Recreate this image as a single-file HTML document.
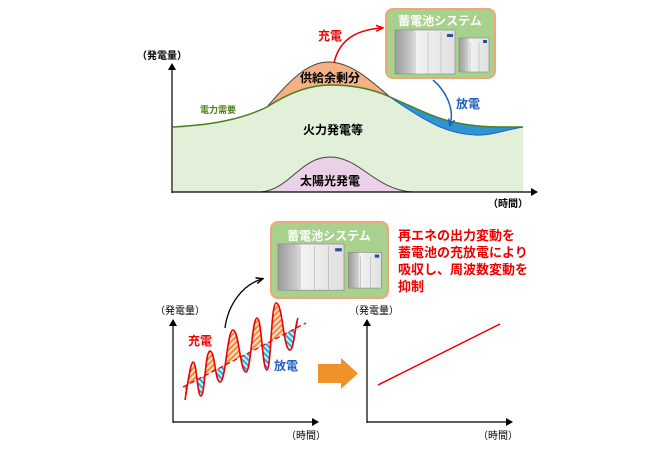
<!DOCTYPE html>
<html><head><meta charset="utf-8"><style>
html,body{margin:0;padding:0;background:#fff;}
svg{display:block;font-family:"Liberation Sans","Noto Sans CJK JP",sans-serif;}
</style></head><body>
<svg width="650" height="450" viewBox="0 0 650 450" xmlns="http://www.w3.org/2000/svg">
<defs>
<marker id="ab" markerWidth="8" markerHeight="8" refX="6" refY="4" orient="auto" markerUnits="userSpaceOnUse"><path d="M0,0 L7,4 L0,8 Z" fill="#000"/></marker>
<marker id="ar" markerWidth="8" markerHeight="8" refX="6" refY="4" orient="auto" markerUnits="userSpaceOnUse"><path d="M0,1 L7,4 L0,7" fill="none" stroke="#e00" stroke-width="1.5"/></marker>
<marker id="abl" markerWidth="8" markerHeight="8" refX="6" refY="4" orient="auto" markerUnits="userSpaceOnUse"><path d="M0,1 L7,4 L0,7" fill="none" stroke="#1f5fbf" stroke-width="1.5"/></marker>
<marker id="ak" markerWidth="8" markerHeight="8" refX="6" refY="4" orient="auto" markerUnits="userSpaceOnUse"><path d="M0,1 L7,4 L0,7" fill="none" stroke="#000" stroke-width="1.5"/></marker>
<pattern id="ho" width="4" height="4" patternUnits="userSpaceOnUse" patternTransform="rotate(45)"><rect width="4" height="4" fill="#fde3cc"/><rect width="2" height="4" fill="#f08a3c"/></pattern>
<pattern id="hb" width="4" height="4" patternUnits="userSpaceOnUse" patternTransform="rotate(-45)"><rect width="4" height="4" fill="#d6f0fa"/><rect width="2" height="4" fill="#2aa8d8"/></pattern>
<clipPath id="cu"><polygon points="180,250 310,250 310,320.3 180,388.6"/></clipPath>
<clipPath id="cd"><polygon points="180,388.6 310,320.3 310,430 180,430"/></clipPath>
<linearGradient id="gc" x1="0" x2="1"><stop offset="0" stop-color="#9a9a9a"/><stop offset="0.3" stop-color="#cfcfcf"/><stop offset="0.35" stop-color="#f2f2f2"/><stop offset="1" stop-color="#e0e0e0"/></linearGradient>
<g id="bat">
<rect x="0" y="0" width="60" height="44" fill="url(#gc)" stroke="#888" stroke-width="0.6"/>
<line x1="20" y1="2" x2="20" y2="44" stroke="#aaa" stroke-width="0.5"/><line x1="33" y1="2" x2="33" y2="44" stroke="#aaa" stroke-width="0.5"/><line x1="46" y1="2" x2="46" y2="44" stroke="#aaa" stroke-width="0.5"/>
<rect x="52" y="4" width="6" height="3" fill="#2a4f9a"/>
<rect x="64" y="8" width="30" height="34" fill="url(#gc)" stroke="#888" stroke-width="0.6"/>
<line x1="75" y1="12" x2="75" y2="42" stroke="#aaa" stroke-width="0.5"/><line x1="84" y1="12" x2="84" y2="42" stroke="#aaa" stroke-width="0.5"/>
<rect x="88" y="10" width="4" height="3" fill="#2a4f9a"/>
</g>
</defs>

<!-- TOP CHART -->
<path d="M173,127 C210,125 240,120 267,107 C290,92 310,85 330,85 C355,85 375,90 390,97 C415,108 435,118 453,122 C480,128 500,127 523,127 L523,192 L173,192 Z" fill="#e2efd9"/>
<path d="M267,107 C290,80 308,62 328,62 C350,62 368,78 390,97 C375,90 355,85 330,85 C310,85 290,92 267,107 Z" fill="#f4b183" stroke="#444" stroke-width="1"/>
<path d="M390,97 C415,108 435,118 453,122 C480,128 500,127 523,127 C505,130 490,136 475,135 C450,134 430,125 390,97 Z" fill="#2e95d3"/>
<path d="M173,127 C210,125 240,120 267,107 C290,92 310,85 330,85 C355,85 375,90 390,97 C415,108 435,118 453,122 C480,128 500,127 523,127" fill="none" stroke="#4e7f1f" stroke-width="1.5"/>
<path d="M390,97 C430,125 450,134 475,135 C490,136 505,130 523,127" fill="none" stroke="#1f5fbf" stroke-width="1"/>
<path d="M260,192 C290,190 300,157 330,157 C360,157 375,190 413,192 Z" fill="#ead1e7" stroke="#444" stroke-width="1"/>
<line x1="172" y1="193" x2="172" y2="64" stroke="#000" stroke-width="1.2" marker-end="url(#ab)"/>
<line x1="172" y1="192" x2="537" y2="192" stroke="#000" stroke-width="1.2" marker-end="url(#ab)"/>
<text x="137" y="59" font-size="10" font-weight="bold">（発電量）</text>
<text x="488" y="207" font-size="10" font-weight="bold">（時間）</text>
<text x="200" y="113" font-size="9" font-weight="bold" fill="#4e7f1f">電力需要</text>
<text x="333" y="134" font-size="12" font-weight="bold" text-anchor="middle">火力発電等</text>
<text x="330" y="185" font-size="12" font-weight="bold" text-anchor="middle">太陽光発電</text>
<text x="330" y="82" font-size="12" font-weight="bold" text-anchor="middle">供給余剰分</text>
<text x="330" y="40" font-size="12" font-weight="bold" fill="#e00" text-anchor="middle">充電</text>
<text x="456" y="108" font-size="12" font-weight="bold" fill="#1f5fbf">放電</text>
<path d="M334,63 C338,45 350,30 382,28" fill="none" stroke="#e00" stroke-width="1.5" marker-end="url(#ar)"/>
<path d="M433,80 C445,90 455,108 450,125" fill="none" stroke="#1f5fbf" stroke-width="1.5" marker-end="url(#abl)"/>
<rect x="386" y="9" width="109" height="69" rx="7" fill="#a9d18e" stroke="#f4a47a" stroke-width="2"/>
<text x="440" y="25" font-size="12" font-weight="bold" fill="#fff" text-anchor="middle">蓄電池システム</text>
<use href="#bat" transform="translate(395,30)"/>

<!-- BOTTOM -->
<rect x="271" y="222" width="117" height="76" rx="7" fill="#a9d18e" stroke="#f4a47a" stroke-width="2"/>
<text x="329" y="240" font-size="12" font-weight="bold" fill="#fff" text-anchor="middle">蓄電池システム</text>
<use href="#bat" transform="translate(278,244) scale(1.1,1.05)"/>
<g font-size="13" font-weight="bold" fill="#e00">
<text x="398" y="240">再エネの出力変動を</text>
<text x="398" y="257">蓄電池の充放電により</text>
<text x="398" y="274">吸収し、周波数変動を</text>
<text x="398" y="291">抑制</text>
</g>
<path d="M225,328 C228,305 242,285 262,279" fill="none" stroke="#000" stroke-width="1.3" marker-end="url(#ak)"/>

<path id="wv" d="M185,400 C189,375 191,362 193,362 C197,362 197,396 201,396 C205,396 205,351 210,351 C215,351 215,382 220,382 C226,382 227,330 233,330 C239,330 240,372 246,372 C251,372 252,318 257,318 C262,318 262,370 267,370 C271,370 271,303 276,303 C283,303 283,350 290,350 C294,350 295,325 298,318" fill="none" stroke="none"/>
<path d="M185,400 C189,375 191,362 193,362 C197,362 197,396 201,396 C205,396 205,351 210,351 C215,351 215,382 220,382 C226,382 227,330 233,330 C239,330 240,372 246,372 C251,372 252,318 257,318 C262,318 262,370 267,370 C271,370 271,303 276,303 C283,303 283,350 290,350 C294,350 295,325 298,318 L298,326.6 L185,386 Z" fill="url(#ho)" clip-path="url(#cu)"/>
<path d="M185,400 C189,375 191,362 193,362 C197,362 197,396 201,396 C205,396 205,351 210,351 C215,351 215,382 220,382 C226,382 227,330 233,330 C239,330 240,372 246,372 C251,372 252,318 257,318 C262,318 262,370 267,370 C271,370 271,303 276,303 C283,303 283,350 290,350 C294,350 295,325 298,318 L298,326.6 L185,386 Z" fill="url(#hb)" clip-path="url(#cd)"/>
<line x1="183" y1="387" x2="306" y2="323" stroke="#e00" stroke-width="1.3" stroke-dasharray="5,3"/>
<path d="M185,400 C189,375 191,362 193,362 C197,362 197,396 201,396 C205,396 205,351 210,351 C215,351 215,382 220,382 C226,382 227,330 233,330 C239,330 240,372 246,372 C251,372 252,318 257,318 C262,318 262,370 267,370 C271,370 271,303 276,303 C283,303 283,350 290,350 C294,350 295,325 298,318" fill="none" stroke="#e00" stroke-width="1.6"/>
<text x="188" y="345" font-size="12" font-weight="bold" fill="#e00">充電</text>
<text x="274" y="370" font-size="12" font-weight="bold" fill="#1f5fbf">放電</text>

<line x1="173" y1="423" x2="173" y2="320" stroke="#000" stroke-width="1.2" marker-end="url(#ab)"/>
<line x1="173" y1="422" x2="318" y2="422" stroke="#000" stroke-width="1.2" marker-end="url(#ab)"/>
<text x="155" y="314" font-size="10">（発電量）</text>
<text x="286" y="439" font-size="10">（時間）</text>

<polygon points="318,364 341,364 341,358 358,373.5 341,389 341,383 318,383" fill="#f0922b"/>

<line x1="367" y1="423" x2="367" y2="320" stroke="#000" stroke-width="1.2" marker-end="url(#ab)"/>
<line x1="367" y1="422" x2="512" y2="422" stroke="#000" stroke-width="1.2" marker-end="url(#ab)"/>
<text x="349" y="314" font-size="10">（発電量）</text>
<text x="478" y="439" font-size="10">（時間）</text>
<line x1="378" y1="385" x2="500" y2="324" stroke="#e00" stroke-width="1.5"/>
</svg>
</body></html>
